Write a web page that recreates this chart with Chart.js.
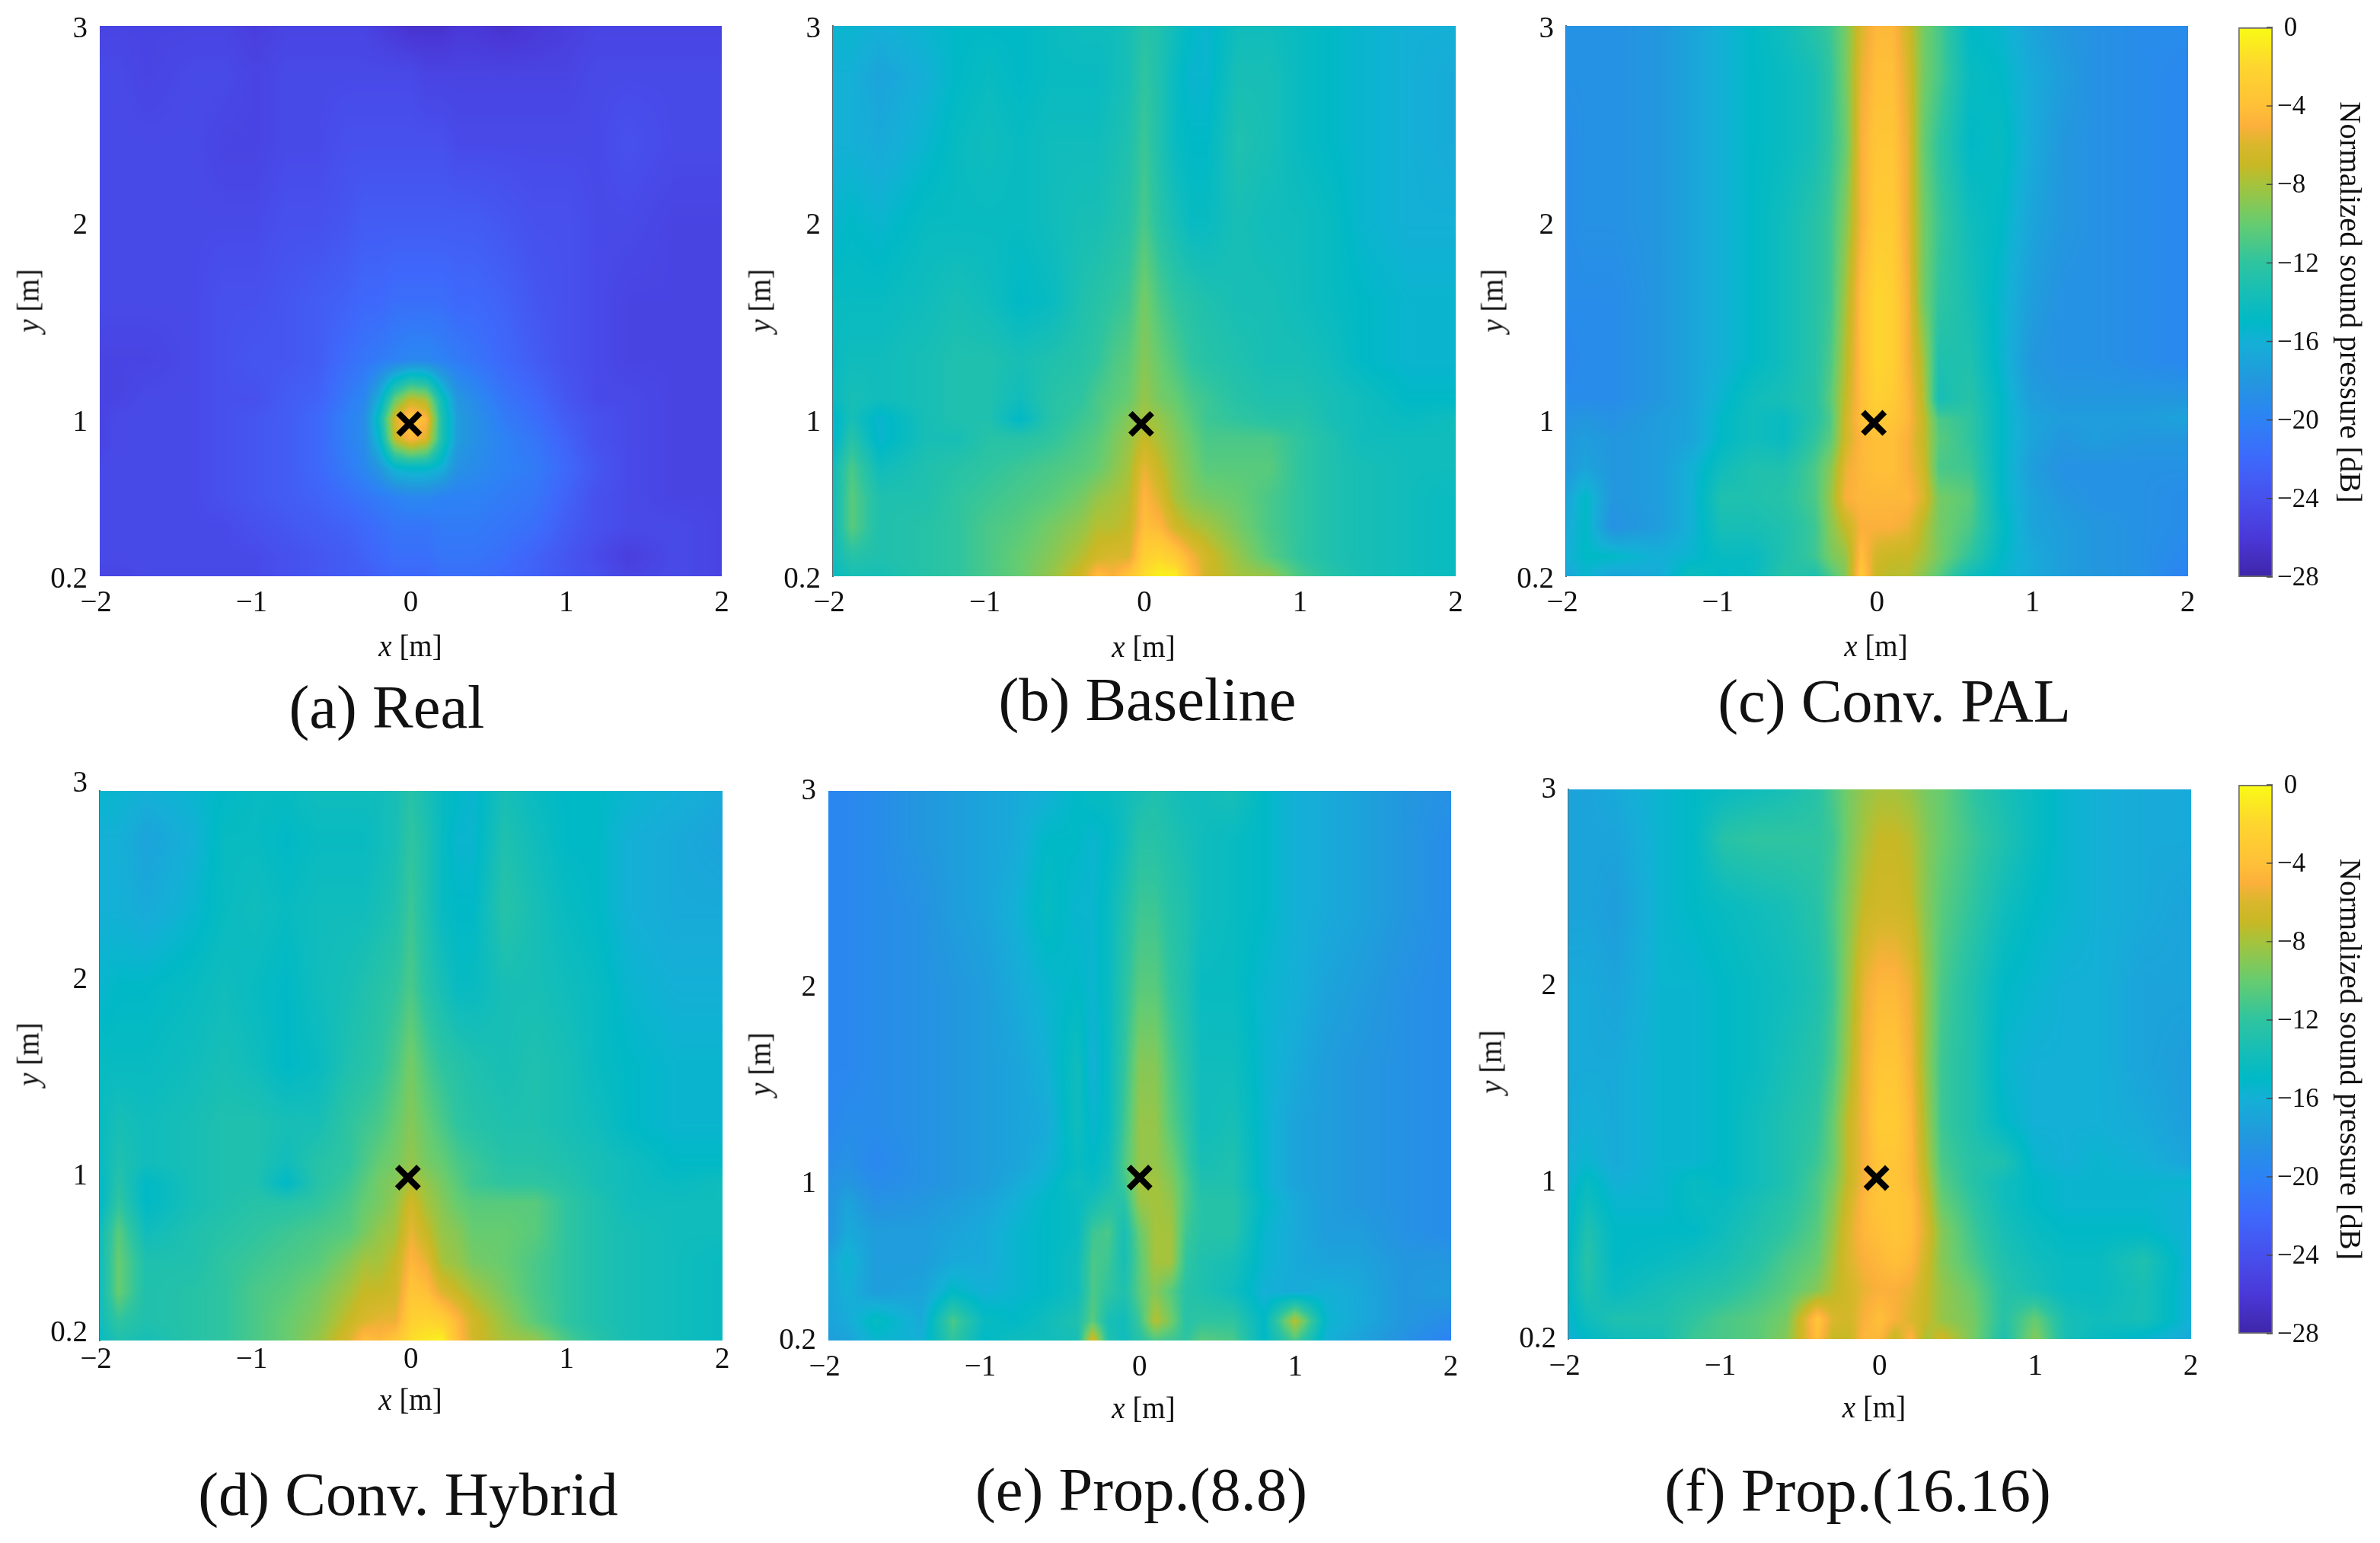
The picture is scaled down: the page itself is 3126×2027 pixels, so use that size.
<!DOCTYPE html>
<html>
<head>
<meta charset="utf-8">
<title>Normalized sound pressure maps</title>
<script src="https://cdn.jsdelivr.net/npm/chart.js@4"></script>
<style>
  html, body { margin: 0; background: #fff; }
  #page { position: relative; width: 3126px; height: 2027px; overflow: hidden; font-family: "Liberation Serif", serif; color: #111; }
  canvas { position: absolute; }
  .lbl { position: absolute; transform: translate(-50%, -50%); white-space: nowrap; font-size: 39px; }
  .rot { transform: translate(-50%, -50%) rotate(-90deg); }
  .cap { position: absolute; transform: translate(-50%, -50%); white-space: nowrap; font-size: 80.5px; }
</style>
</head>
<body>
<div id="page"></div>
<script>
// grid positions of the dB values below
const gridX = [-2, -1.88, -1.7, -1.4, -1.2, -1, -0.8, -0.6, -0.4, -0.3, -0.2, -0.1, 0, 0.1, 0.2, 0.3, 0.4, 0.6, 0.8, 1, 1.2, 1.4, 1.7, 2];
const gridY = [3, 2.75, 2.4, 2, 1.6, 1.3, 1.1, 1, 0.9, 0.75, 0.6, 0.45, 0.3, 0.2];

const xTickValues = [-2, -1, 0, 1, 2];
const yTickValues = [0.2, 1, 2, 3];
const barTickValues = [0, -4, -8, -12, -16, -20, -24, -28];

const captions = ["(a) Real", "(b) Baseline", "(c) Conv. PAL", "(d) Conv. Hybrid", "(e) Prop.(8.8)", "(f) Prop.(16.16)"];
const markerX = [-0.01, -0.02, -0.02, -0.02, 0, -0.02];
const markerY = [0.975, 0.975, 0.98, 1.03, 1.03, 1.02];

const realValues = [
  [-25,-25,-25,-25,-25,-25.5,-25,-25,-25,-25,-25.5,-26,-26.5,-26.5,-26.5,-26,-26,-26.5,-26,-25.5,-25,-25,-25,-25],
  [-24.5,-24.5,-25,-24.5,-24.5,-25,-24.5,-24.5,-24.5,-24.5,-24.5,-24.5,-24.5,-25,-25,-25,-25,-25,-25,-25,-24.5,-24.5,-24.5,-24.5],
  [-24.5,-24.5,-24.5,-24.5,-25,-25,-24.5,-24.5,-24,-24,-24,-24,-24,-24,-24,-24.5,-24.5,-24.5,-24.5,-24.5,-24.5,-24,-24.5,-24.5],
  [-24.5,-24.5,-24.5,-24.5,-24.5,-24.5,-24,-24,-23.5,-23,-23,-23,-23,-23,-23,-23,-23,-23.5,-24,-24,-24.5,-24.5,-25,-25],
  [-24.5,-24.5,-24.5,-24.5,-24,-24,-23.5,-23,-22.5,-22,-22,-21.5,-21.5,-21.5,-21.5,-22,-22,-22.5,-23.5,-24,-24.5,-25,-25,-25],
  [-25,-25,-25,-24.5,-24,-23.5,-23.5,-23,-21.5,-21,-20.5,-20,-19.5,-19.5,-20,-20.5,-21,-22,-23,-24,-24.5,-25,-25,-25],
  [-25,-25,-24.5,-24.5,-24,-24,-23,-22.5,-20.5,-19.5,-16,-10,-7,-8,-14,-18,-19,-21,-22,-23.5,-24.5,-24.5,-25,-25],
  [-25,-24.5,-24.5,-24.5,-24,-23.5,-23,-22,-20,-19,-14,-6,-3,-4.5,-13,-17.5,-18.5,-20.5,-21.5,-23,-24,-24.5,-25,-25],
  [-25,-24.5,-24.5,-24.5,-24,-23.5,-23,-22,-20,-19,-15,-7,-4.5,-6,-13,-17.5,-18.5,-20,-21,-22.5,-24,-24.5,-25,-25],
  [-24.5,-24.5,-24.5,-24.5,-24,-23.5,-23,-22,-20.5,-19.5,-18,-15.5,-15,-15,-16,-18.5,-19,-20,-20.5,-22,-23.5,-24.5,-25,-25],
  [-24.5,-24.5,-24.5,-24.5,-24,-23.5,-23,-22.5,-21.5,-21,-20.5,-20,-19.5,-19.5,-20,-20,-20,-20.5,-21,-22.5,-24,-24.5,-25,-25],
  [-24.5,-24.5,-24.5,-24.5,-24.5,-24,-23.5,-23,-22.5,-22,-21.5,-21,-21,-21,-20.5,-20.5,-20.5,-21,-21.5,-23,-24,-24.5,-24.5,-25],
  [-24.5,-24.5,-24.5,-24.5,-24.5,-24.5,-24,-23.5,-23,-22.5,-22,-21.5,-21.5,-21.5,-21,-21,-21,-21.5,-22.5,-23.5,-24.5,-25.5,-24.5,-25],
  [-25,-25,-24.5,-24.5,-24.5,-24.5,-24,-23.5,-23,-23,-22.5,-22,-22,-22,-21.5,-21.5,-21.5,-22,-22.5,-23.5,-24,-25,-24.5,-25]
];

const baselineValues = [
  [-15.5,-15.5,-16,-15.5,-15,-15,-15,-14.5,-14,-14,-14,-13.5,-12.5,-13,-14,-15,-15.5,-14,-14,-14.5,-15,-15.5,-16,-16],
  [-16,-16,-17,-16,-15,-14.5,-15,-14.5,-14.5,-14.5,-14,-13.5,-12,-13,-14.5,-15.5,-15.5,-13.5,-13.5,-14.5,-15,-15.5,-16,-16.5],
  [-16,-16,-16.5,-15.5,-14.5,-14,-14.5,-14,-14,-14,-13.5,-13,-11.5,-13,-14.5,-15,-15,-13,-13.5,-14.5,-15,-15.5,-16,-16.5],
  [-15.5,-15,-15.5,-14.5,-14.5,-14.5,-14.5,-14,-13.5,-13.5,-13,-12.5,-11,-12.5,-13.5,-14.5,-14.5,-13.5,-14,-14,-14.5,-15.5,-16,-16],
  [-14.5,-14.5,-14.5,-14,-13.5,-14,-15,-14.5,-13,-12.5,-12,-11.5,-9.5,-11,-12,-12.5,-13,-13.5,-13.5,-14,-14.5,-15,-15.5,-15.5],
  [-14.5,-14,-14,-13.5,-13,-13,-13.5,-13,-12.5,-12,-11,-10.5,-9,-10,-11,-12,-12.5,-13,-13.5,-13.5,-14,-15,-15.5,-15.5],
  [-14.5,-13.5,-14,-13.5,-13,-13,-14,-12.5,-12,-11,-10.5,-10,-8.5,-9.5,-10,-11,-11.5,-12.5,-13,-13,-13.5,-14,-15,-15],
  [-15.5,-13.5,-15.5,-13.5,-13,-13,-15,-12.5,-11.5,-11,-10,-9,-8,-8.5,-9.5,-10.5,-11.5,-12,-12.5,-12.5,-13.5,-14,-14.5,-14],
  [-15.5,-12.5,-15.5,-13.5,-13.5,-12.5,-12.5,-12,-11,-10.5,-9.5,-8.5,-7,-8,-9,-10,-11,-11,-11,-12,-13,-14,-14,-14],
  [-14,-11,-14,-13,-12.5,-12,-11.5,-11,-10.5,-10,-9,-8,-5.5,-7,-8.5,-9.5,-10.5,-10.5,-10.5,-12,-13,-13.5,-14,-14],
  [-14,-10.5,-13,-13,-12,-11.5,-11,-10.5,-9.5,-8.5,-8,-7.5,-4.5,-6,-8,-9,-9.5,-10,-11,-12,-13,-13.5,-14,-14.5],
  [-14,-10.5,-13,-12.5,-12,-11,-10.5,-9.5,-8.5,-7.5,-7.5,-7,-4,-4.5,-6.5,-7.5,-8,-9.5,-11,-12,-13,-13.5,-14,-14.5],
  [-14,-12.5,-13,-12.5,-12,-11,-10,-9,-7.5,-6.5,-6,-6,-2.5,-2,-3,-5,-6.5,-8.5,-10.5,-12,-13,-13.5,-14,-14.5],
  [-14.5,-13.5,-13.5,-12.5,-12,-11,-10,-8.5,-6.5,-4,-5,-3.5,-1.5,-0.5,-0.5,-4,-6.5,-8,-8.5,-11,-12.5,-13.5,-14,-14.5]
];

const palValues = [
  [-18.5,-18.5,-18.5,-18,-17,-16,-15,-14,-12.5,-11.5,-9.5,-6,-4.5,-4.5,-6.5,-9.5,-11,-15,-15.5,-17,-18,-18.5,-19,-19],
  [-18.5,-18.5,-18.5,-18,-17,-16,-15,-14.5,-13.5,-12,-9.5,-5.5,-4,-4,-6,-9.5,-11,-14.5,-15,-16.5,-17.5,-18.5,-19,-19.5],
  [-19,-18.5,-18.5,-18,-17,-16,-15,-14.5,-13.5,-12,-10,-5,-3.5,-3.5,-5.5,-10,-12,-15,-14.5,-16.5,-18,-18.5,-19,-19.5],
  [-19,-18.5,-18.5,-18,-17,-16,-15,-14,-12.5,-11.5,-9,-5,-3,-3,-5.5,-9.5,-11.5,-14,-15,-17,-18,-18.5,-19,-19.5],
  [-19,-19,-19,-18,-17,-16,-15,-14,-12.5,-11.5,-8,-4,-2,-2.5,-5,-9.5,-12,-13.5,-15.5,-17.5,-18.5,-18.5,-19,-19.5],
  [-19.5,-19,-19,-18,-17,-16,-15,-14,-12.5,-11,-7.5,-4,-2,-2.5,-5,-8,-13,-13,-15.5,-18,-18.5,-18.5,-19,-19.5],
  [-19,-19,-19,-18,-17,-15.5,-14,-13.5,-12.5,-10.5,-7,-4,-2.5,-3,-4.5,-7.5,-13.5,-12.5,-15,-17.5,-18,-18,-18,-18],
  [-18.5,-18,-18.5,-17.5,-17,-15,-14,-14.5,-12.5,-11,-6.5,-4,-3,-3.5,-4.5,-7,-11,-12,-15,-17,-17.5,-17.5,-17.5,-17],
  [-18,-17.5,-18,-17.5,-17,-15,-14,-14.5,-12,-10.5,-6.5,-4.5,-4,-4,-5,-7,-10.5,-12,-15,-17,-18,-17.5,-18,-18],
  [-18,-17,-18,-17.5,-16,-14,-13,-13,-11,-9,-5.5,-4.5,-4,-4,-5,-6.5,-11,-11.5,-15,-17.5,-18.5,-18.5,-18.5,-18.5],
  [-17,-15,-18,-17.5,-16,-13,-13,-12.5,-11,-8.5,-5,-4.5,-4.5,-4.5,-4.5,-6,-9.5,-10.5,-15,-17,-18,-18.5,-18.5,-19],
  [-16.5,-15,-18.5,-17.5,-16,-13.5,-13.5,-13,-11.5,-9,-7,-5,-5,-5,-5.5,-7.5,-9.5,-11,-14.5,-17,-17.5,-18,-18.5,-19],
  [-16,-15,-15,-16,-15.5,-14.5,-14.5,-13,-11.5,-9.5,-8.5,-4,-6.5,-7,-7,-8,-9.5,-12,-15,-16.5,-17.5,-18,-18.5,-19.5],
  [-17,-15.5,-17,-16.5,-14,-15,-14.5,-12.5,-13,-11,-9,-3,-7,-7.5,-7.5,-9,-10.5,-14,-15.5,-16.5,-17.5,-18,-18.5,-20]
];

const hybridValues = [
  [-15.5,-15.5,-16,-15.5,-15,-14.5,-14.5,-14,-14,-14,-14,-13.5,-12.5,-13.5,-14.5,-15,-15.5,-13.5,-14.5,-15,-15,-15.5,-16,-16.5],
  [-16,-16,-17,-16,-14.5,-14.5,-15,-14.5,-14.5,-14.5,-14,-13.5,-12,-13,-14.5,-15.5,-15.5,-13,-14,-15,-15,-16,-16.5,-17],
  [-16,-16,-16.5,-15.5,-14.5,-14,-14.5,-14,-14,-14,-13.5,-13,-11.5,-13,-14.5,-15,-15,-12.5,-13.5,-14.5,-15,-16,-16.5,-16.5],
  [-15.5,-15,-15,-14.5,-14,-14.5,-15,-14,-13.5,-13,-12.5,-12,-11,-12.5,-13.5,-14.5,-14.5,-13.5,-13.5,-14,-14.5,-15.5,-16,-16],
  [-14.5,-14.5,-14.5,-14,-13.5,-14,-15,-14.5,-13,-12.5,-12,-11,-9.5,-11,-12,-12.5,-13,-13.5,-13,-13.5,-14.5,-15,-15.5,-15.5],
  [-14.5,-13.5,-14,-13.5,-13,-13,-13.5,-13.5,-12,-11.5,-11,-10,-9,-10,-11,-12,-12.5,-13,-13,-13.5,-14,-15,-15.5,-15.5],
  [-14.5,-13,-14,-13.5,-13,-13,-14,-12.5,-12,-11,-10,-9.5,-8.5,-9.5,-10,-11,-11.5,-12.5,-12.5,-13,-13.5,-14,-15,-15],
  [-15,-12.5,-15,-13.5,-13,-13,-15,-12.5,-11.5,-10.5,-9.5,-9,-7.5,-8.5,-9.5,-10.5,-11.5,-12,-12,-12.5,-13.5,-14,-14.5,-14],
  [-15,-12,-15,-13.5,-13,-12.5,-12.5,-12,-11,-10,-9.5,-8.5,-6.5,-8,-9,-10,-10.5,-10.5,-10.5,-12,-13,-14,-14,-14],
  [-14,-10.5,-14,-13,-12.5,-12,-11.5,-11,-10.5,-9.5,-8.5,-8,-5.5,-7,-8.5,-9,-10,-10,-10.5,-12,-13,-13.5,-14,-14],
  [-14,-10,-13,-13,-12,-11.5,-11,-10.5,-9,-8,-8,-7,-4.5,-5.5,-8,-8.5,-9.5,-10,-11,-12,-13,-13.5,-14,-14.5],
  [-14,-10,-13,-12.5,-12,-11,-10.5,-9.5,-8,-7,-7,-6.5,-3.5,-4,-6,-7,-8,-9.5,-11,-12,-13,-13.5,-14,-14.5],
  [-14,-12,-13,-12.5,-12,-11,-10,-9,-7,-6,-5.5,-5.5,-2.5,-2,-2.5,-4.5,-6.5,-8.5,-10.5,-12,-13,-13.5,-14,-14.5],
  [-14.5,-13,-13.5,-12.5,-12,-11,-10,-8.5,-6,-4,-4.5,-3.5,-1.5,-1,-0.5,-4,-6.5,-8,-8.5,-11,-12.5,-13.5,-14,-14.5]
];

const prop8Values = [
  [-19.5,-19.5,-19,-18,-17.5,-17,-16.5,-16,-15,-14.5,-14.5,-14,-13.5,-13,-13.5,-14,-14,-13.5,-15,-16,-16.5,-17,-18,-18.5],
  [-19.5,-19.5,-19,-18,-17.5,-17,-16.5,-15,-15,-15.5,-15,-14,-12.5,-12.5,-13,-13.5,-14,-14.5,-15,-16,-16.5,-17,-18,-19],
  [-19.5,-19.5,-19,-18.5,-17.5,-17,-16,-14.5,-15.5,-15.5,-14.5,-13,-11.5,-11.5,-12.5,-13,-14,-14.5,-15,-16,-16.5,-17,-18,-19],
  [-19.5,-19.5,-19,-18.5,-18,-17.5,-16.5,-15.5,-15,-15.5,-14.5,-12.5,-10.5,-10.5,-12,-13,-14.5,-14.5,-15.5,-16,-17,-17.5,-18.5,-19],
  [-19.5,-19.5,-19,-18.5,-18,-17.5,-17,-16,-14,-16,-14.5,-12,-9,-9,-11,-12.5,-14,-14,-15.5,-16.5,-17.5,-18,-18.5,-19],
  [-19.5,-19,-19,-18.5,-18,-17.5,-17,-16.5,-14,-15.5,-14.5,-11.5,-8.5,-8.5,-10.5,-12,-14,-13.5,-15.5,-17,-17.5,-18,-18.5,-19],
  [-19,-18.5,-19.5,-18.5,-18,-17.5,-17,-16,-14.5,-15,-14,-11,-8.5,-8.5,-9.5,-11.5,-13.5,-13,-15.5,-17,-17.5,-18,-18.5,-19],
  [-18.5,-18,-19,-18.5,-18,-17.5,-16.5,-15.5,-14,-14.5,-13.5,-11.5,-8,-8,-9,-11,-13,-13,-15.5,-17,-17.5,-18,-18.5,-19],
  [-18.5,-17,-18.5,-18,-17.5,-17,-16,-15,-14.5,-13.5,-12.5,-12.5,-8.5,-8,-8.5,-11,-12.5,-12.5,-15,-16.5,-17.5,-18,-18.5,-19],
  [-18.5,-16.5,-17.5,-17.5,-17,-16.5,-15.5,-15,-14.5,-11.5,-11,-13.5,-10,-8,-8,-11.5,-12.5,-12.5,-15.5,-16.5,-17.5,-17.5,-18.5,-19],
  [-17,-15.5,-17.5,-17.5,-16.5,-16.5,-15.5,-15,-14,-11,-11.5,-13.5,-10.5,-8,-8,-12,-13,-13.5,-15.5,-16.5,-17,-17,-18,-18],
  [-17,-16,-17.5,-17,-15,-16,-15.5,-15,-14,-11,-12,-13,-10.5,-9,-10.5,-12.5,-13,-14,-16,-16.5,-16,-16.5,-18,-17.5],
  [-17,-16.5,-14.5,-16.5,-11,-14.5,-15,-14,-13,-10.5,-13.5,-14,-11.5,-7.5,-9.5,-12.5,-12,-12,-15,-7.5,-15.5,-16.5,-18,-19],
  [-17.5,-17,-15.5,-16,-12,-15,-14,-14,-13.5,-6,-13,-14,-12.5,-11,-11.5,-12,-10.5,-11,-15,-11,-16,-17,-18.5,-20]
];

const prop16Values = [
  [-17,-17,-16.5,-15.5,-15,-14.5,-14,-13.5,-12.5,-11,-9.5,-8.5,-8,-8,-8.5,-9.5,-10,-12,-13.5,-14.5,-15.5,-16,-16.5,-16.5],
  [-17,-17,-17,-15.5,-15,-12.5,-12,-12,-12,-11.5,-9.5,-8,-7,-7,-7.5,-9,-10,-11.5,-13,-14.5,-15.5,-16,-16.5,-16.5],
  [-17,-17,-17.5,-15.5,-15,-14.5,-14,-13.5,-12.5,-11,-9,-7,-6.5,-6.5,-7,-9,-10.5,-12,-14,-15,-15.5,-16,-16.5,-17],
  [-16.5,-16.5,-17,-15.5,-15.5,-15,-14.5,-14,-13,-11.5,-8.5,-5.5,-4.5,-4.5,-5.5,-8.5,-11,-13,-15,-15.5,-16,-16,-17,-17],
  [-16.5,-16.5,-16.5,-15.5,-15.5,-15,-14.5,-13.5,-12.5,-11,-8,-5,-3.5,-3.5,-5,-8.5,-11.5,-13,-15.5,-16,-16,-16,-17,-17.5],
  [-16.5,-16,-16.5,-15.5,-15.5,-15,-14,-13,-12,-10,-7,-5,-3,-3,-4.5,-8,-11.5,-13,-15,-16,-16,-16,-16.5,-17.5],
  [-16,-15.5,-16.5,-15.5,-15.5,-15,-14,-13,-11.5,-10,-7,-5,-3.5,-3.5,-4.5,-7.5,-11,-12.5,-13,-15.5,-16,-15.5,-16,-17],
  [-16,-14.5,-16,-15.5,-14.5,-15,-14,-13,-11,-9.5,-7,-5,-3.5,-3.5,-4.5,-7,-10.5,-12.5,-14,-15,-15.5,-15.5,-15.5,-15.5],
  [-15.5,-14,-15.5,-15.5,-14.5,-14.5,-13.5,-12.5,-11,-9,-6.5,-4.5,-3.5,-3.5,-4,-6.5,-10,-12,-14,-15,-15.5,-15.5,-15.5,-16],
  [-15.5,-13,-15,-15,-15,-14,-13,-12,-10.5,-8.5,-6,-4.5,-4,-3.5,-4,-6,-9,-11.5,-13.5,-14.5,-15,-15,-15,-16],
  [-15,-12.5,-15,-14.5,-14,-13.5,-12.5,-11,-10,-8,-6,-5,-4.5,-4,-4.5,-6.5,-9,-11,-13,-14,-14.5,-14.5,-13,-16],
  [-15,-13,-14.5,-13.5,-13,-12.5,-11.5,-10.5,-9,-7.5,-6.5,-5.5,-5,-5,-5.5,-7,-8.5,-10,-12.5,-13.5,-14.5,-14.5,-13.5,-16],
  [-15.5,-14,-13,-13,-12,-11,-10.5,-9.5,-3.5,-6,-6.5,-5,-4,-5,-6,-7,-8.5,-9.5,-12.5,-10,-13.5,-14,-13.5,-16],
  [-16,-15,-14,-13.5,-11.5,-11,-10.5,-9,-4,-7,-7,-4.5,-4.5,-7,-4.5,-8,-6.5,-9.5,-13,-9,-13.5,-14.5,-15.5,-16.5]
];

const panelValues = [realValues, baselineValues, palValues, hybridValues, prop8Values, prop16Values];

// colormap: dB level and its colour
const mapLevels = [-28, -26, -24, -22, -20, -18, -16, -15, -14, -12, -10, -8, -7, -6, -5, -4, -2, 0];
const mapColors = ["#3e26a8", "#4a38d8", "#4750ed", "#3e68fb", "#2d82f5", "#2397de", "#14b0d6", "#00b9c6", "#10bcbc", "#2ec4a0", "#66cc70", "#a5c33c", "#c8b825", "#d9b72c", "#fbb03b", "#ffc038", "#fed52f", "#f9fb15"];

// plot areas and text placement in page pixels
const layouts = [
  { l: 130.7, t: 34.4, w: 817, h: 722.6, xPad: 12, yShift: 5, edge: false, xt: [539, 848], yt: [37, 395], cap: [508, 929] },
  { l: 1094.4, t: 34.4, w: 818, h: 722.6, xPad: 12, yShift: 5, edge: true, xt: [1502, 849], yt: [998, 395], cap: [1507, 919] },
  { l: 2056.5, t: 34.4, w: 816.5, h: 722.6, xPad: 12, yShift: 5, edge: true, xt: [2464, 848], yt: [1960, 395], cap: [2488, 921] },
  { l: 130.7, t: 1039.3, w: 817.7, h: 721.7, xPad: 2, yShift: -9, edge: true, xt: [539, 1838], yt: [37, 1385], cap: [536, 1963] },
  { l: 1088, t: 1039.3, w: 817.6, h: 721.7, xPad: 12, yShift: 1, edge: false, xt: [1502, 1849], yt: [998, 1398], cap: [1499, 1957] },
  { l: 2059.5, t: 1037.3, w: 817.5, h: 721.7, xPad: 13, yShift: 1, edge: true, xt: [2461.5, 1848], yt: [1958, 1395], cap: [2440, 1958] }
];
const barLayouts = [
  { t: 36.4, h: 721.6 },
  { t: 1031.4, h: 720.4 }
];

const page = document.getElementById("page");
const tickFont = { family: "Liberation Serif", size: 39 };
const textColor = "#111";

function hexToRgb(hex) {
  return [1, 3, 5].map(i => parseInt(hex.slice(i, i + 2), 16));
}
const mapRgb = mapColors.map(hexToRgb);

function levelToRgb(v) {
  if (v <= mapLevels[0]) return mapRgb[0];
  for (let i = 1; i < mapLevels.length; i++) {
    if (v <= mapLevels[i]) {
      const f = (v - mapLevels[i - 1]) / (mapLevels[i] - mapLevels[i - 1]);
      return mapRgb[i].map((c, k) => mapRgb[i - 1][k] + (c - mapRgb[i - 1][k]) * f);
    }
  }
  return mapRgb[mapRgb.length - 1];
}

// finds the segment of a sorted list around v and the position in it
function locate(list, v, descending) {
  for (let i = 0; i < list.length - 1; i++) {
    const a = list[i], b = list[i + 1];
    if (descending ? v >= b : v <= b) {
      return [i, Math.min(1, Math.max(0, (v - a) / (b - a)))];
    }
  }
  return [list.length - 2, 1];
}

// paints the dB grid of a panel into the plot area, pixel by pixel through the scales
const heatmapPlugin = {
  id: "heatmap",
  beforeDatasetsDraw(chart, args, opts) {
    const area = chart.chartArea;
    const left = Math.round(area.left), top = Math.round(area.top);
    const w = Math.round(area.right) - left, h = Math.round(area.bottom) - top;
    const img = chart.ctx.createImageData(w, h);
    const cols = [];
    for (let px = 0; px < w; px++) cols.push(locate(gridX, chart.scales.x.getValueForPixel(left + px + 0.5), false));
    let n = 0;
    for (let py = 0; py < h; py++) {
      const [r, fy] = locate(gridY, chart.scales.y.getValueForPixel(top + py + 0.5), true);
      const upper = opts.values[r], lower = opts.values[r + 1];
      for (let px = 0; px < w; px++) {
        const [c, fx] = cols[px];
        const a = upper[c] + (upper[c + 1] - upper[c]) * fx;
        const b = lower[c] + (lower[c + 1] - lower[c]) * fx;
        const rgb = levelToRgb(a + (b - a) * fy);
        img.data[n++] = rgb[0];
        img.data[n++] = rgb[1];
        img.data[n++] = rgb[2];
        img.data[n++] = 255;
      }
    }
    chart.ctx.putImageData(img, left, top);
  }
};

function addCanvas(left, top, width, height) {
  const canvas = document.createElement("canvas");
  canvas.width = width;
  canvas.height = height;
  canvas.style.left = left + "px";
  canvas.style.top = top + "px";
  canvas.style.width = width + "px";
  canvas.style.height = height + "px";
  page.appendChild(canvas);
  return canvas.getContext("2d");
}

function addText(html, pos, className) {
  const el = document.createElement("div");
  el.className = className;
  el.innerHTML = html;
  el.style.left = pos[0] + "px";
  el.style.top = pos[1] + "px";
  page.appendChild(el);
}

function minusLabel(v) {
  return String(v).replace("-", "\u2212");
}

layouts.forEach((box, i) => {
  const padLeft = 120, padTop = 40, padRight = 30, padBottom = 70;
  const oLeft = box.l - padLeft, oTop = box.t - padTop;
  const ctx = addCanvas(oLeft, oTop, Math.ceil(box.w + padLeft + padRight), Math.ceil(box.h + padTop + padBottom));

  new Chart(ctx, {
    type: "scatter",
    data: {
      datasets: [{
        label: captions[i],
        data: [{ x: markerX[i], y: markerY[i] }],
        pointStyle: "crossRot",
        pointRadius: 20,
        pointBorderWidth: 8,
        pointBorderColor: "#000",
        pointBackgroundColor: "#000"
      }]
    },
    plugins: [heatmapPlugin],
    options: {
      responsive: false,
      animation: false,
      devicePixelRatio: 1,
      layout: { padding: { left: 0, top: padTop, right: Math.ceil(box.w + padLeft + padRight) - padLeft - box.w, bottom: 0 } },
      plugins: {
        legend: { display: false },
        tooltip: { enabled: false },
        heatmap: { values: panelValues[i] }
      },
      scales: {
        x: {
          type: "linear",
          min: -2,
          max: 2,
          afterFit(scale) { scale.height = padBottom; },
          afterBuildTicks(scale) { scale.ticks = xTickValues.map(v => ({ value: v })); },
          grid: { display: false, drawTicks: false },
          border: { display: false },
          // the trailing space pulls the negative labels a bit left, as in the original figure
          ticks: { font: tickFont, color: textColor, padding: box.xPad, maxRotation: 0, autoSkip: false, callback: v => (v < 0 ? minusLabel(v) + "\u00a0" : String(v)) }
        },
        y: {
          type: "linear",
          min: 0.2,
          max: 3,
          afterFit(scale) { scale.width = padLeft; },
          afterBuildTicks(scale) { scale.ticks = yTickValues.map(v => ({ value: v })); },
          grid: { display: false, drawTicks: false },
          border: { display: box.edge, color: "#5a6a70", width: 2 },
          ticks: { font: tickFont, color: textColor, padding: 16, labelOffset: box.yShift, autoSkip: false, callback: v => String(v) }
        }
      }
    }
  });

  addText("<i>x</i> [m]", box.xt, "lbl");
  addText("<i>y</i> [m]", box.yt, "lbl rot");
  addText(captions[i], box.cap, "cap");
});

// small tick marks inside the colour bar
const barTicksPlugin = {
  id: "barTicks",
  afterDatasetsDraw(chart) {
    const c = chart.ctx, y = chart.scales.y, right = chart.chartArea.right;
    c.save();
    c.strokeStyle = "#444";
    c.lineWidth = 1.5;
    barTickValues.forEach(v => {
      const py = y.getPixelForValue(v);
      c.beginPath();
      c.moveTo(right - 8, py);
      c.lineTo(right, py);
      c.stroke();
    });
    c.restore();
  }
};

barLayouts.forEach(box => {
  const canvasLeft = 2900, barLeft = 40, barWidth = 45, padTop = 30, padBottom = 30;
  const width = 226, height = Math.ceil(box.h + padTop + padBottom);
  const ctx = addCanvas(canvasLeft, box.t - padTop, width, height);

  new Chart(ctx, {
    type: "bar",
    data: {
      labels: [""],
      datasets: [{
        data: [[-28, 0]],
        barPercentage: 1,
        categoryPercentage: 1,
        borderWidth: 2,
        borderColor: "#6b6b6b",
        borderSkipped: false,
        backgroundColor(context) {
          const area = context.chart.chartArea;
          if (!area) return mapColors[0];
          const yScale = context.chart.scales.y;
          const grad = context.chart.ctx.createLinearGradient(0, yScale.getPixelForValue(-28), 0, yScale.getPixelForValue(0));
          mapLevels.forEach((lvl, k) => grad.addColorStop((lvl + 28) / 28, mapColors[k]));
          return grad;
        }
      }]
    },
    plugins: [barTicksPlugin],
    options: {
      responsive: false,
      animation: false,
      devicePixelRatio: 1,
      layout: { padding: { left: barLeft, top: padTop, right: 0, bottom: padBottom } },
      plugins: { legend: { display: false }, tooltip: { enabled: false } },
      scales: {
        x: { display: false },
        y: {
          position: "right",
          min: -28,
          max: 0,
          afterFit(scale) { scale.width = width - barLeft - barWidth; },
          afterBuildTicks(scale) { scale.ticks = barTickValues.map(v => ({ value: v })); },
          grid: { display: false, drawTicks: false },
          border: { display: false },
          ticks: {
            font: { family: "Liberation Serif", size: 35 },
            color: textColor,
            padding: 6,
            labelOffset: 2,
            autoSkip: false,
            callback: v => (v === 0 ? " 0" : minusLabel(v))
          },
          title: {
            display: true,
            text: "Normalized sound pressure [dB]",
            color: textColor,
            font: { family: "Liberation Serif", size: 40.5 },
            padding: { top: 17, bottom: 0 }
          }
        }
      }
    }
  });
});
</script>
</body>
</html>
